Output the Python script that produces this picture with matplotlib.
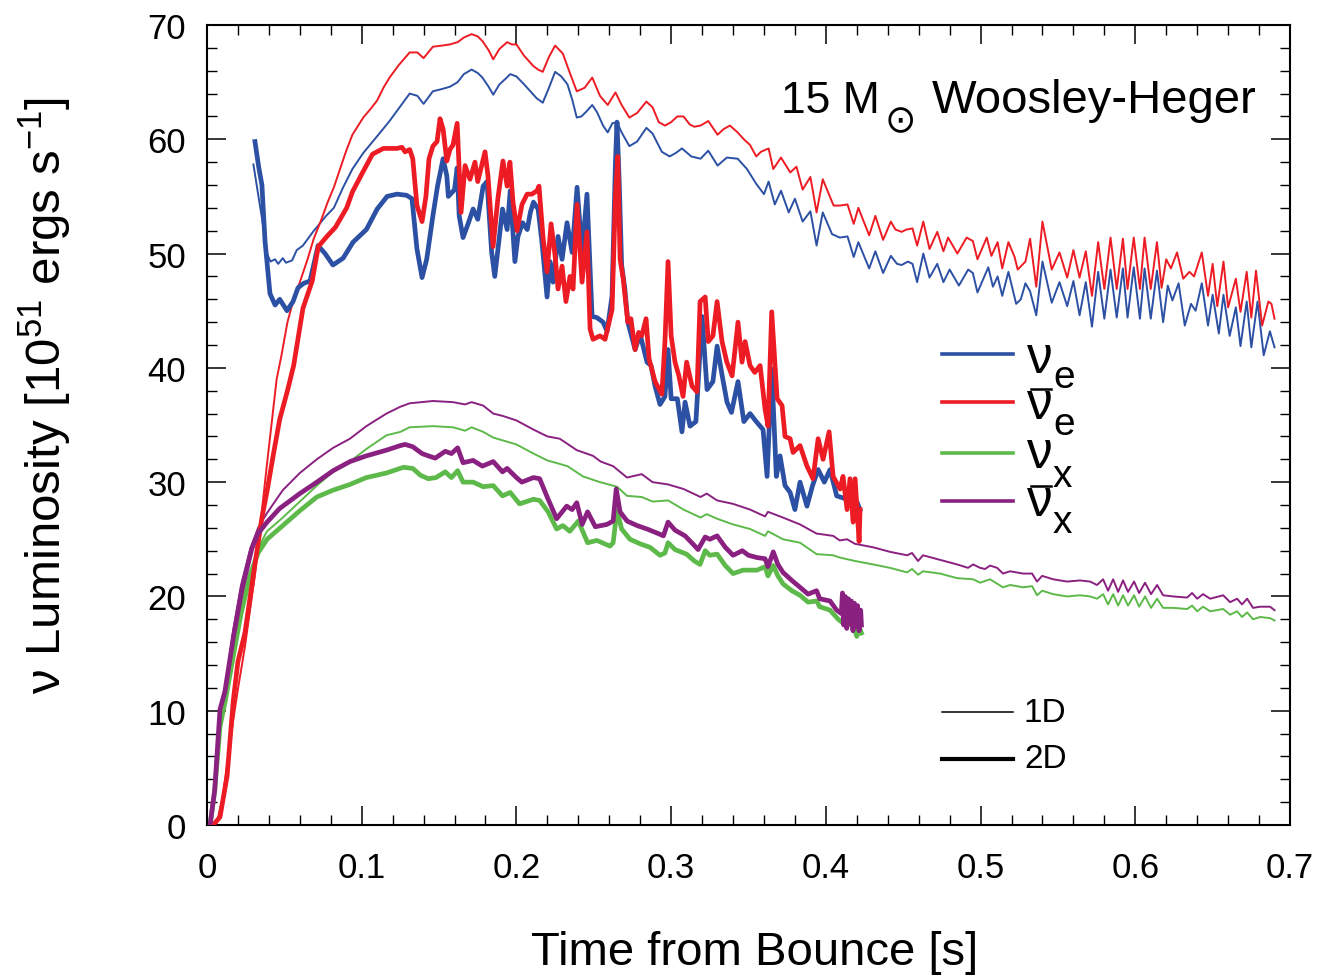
import matplotlib
matplotlib.use("Agg")
import matplotlib.pyplot as plt
from matplotlib.lines import Line2D

plt.rcParams['font.family'] = ['Liberation Sans', 'DejaVu Sans']
plt.rcParams['mathtext.fontset'] = 'custom'
plt.rcParams['mathtext.rm'] = 'Liberation Sans'
plt.rcParams['mathtext.it'] = 'Liberation Sans'
plt.rcParams['mathtext.bf'] = 'Liberation Sans:bold'
plt.rcParams['mathtext.sf'] = 'Liberation Sans'

# ---------------- data ----------------
# nu_e, 1D
t_nue_1d = [0.030, 0.0355, 0.0388, 0.041, 0.044, 0.046, 0.049, 0.051, 0.055, 0.058, 0.062, 0.0685,
            0.077, 0.082, 0.088, 0.094, 0.101, 0.112, 0.118, 0.125, 0.131, 0.136, 0.140, 0.146, 0.152,
            0.157, 0.162, 0.166, 0.171, 0.175, 0.178, 0.182, 0.185, 0.189, 0.193, 0.196, 0.200, 0.205,
            0.209, 0.213, 0.217, 0.221, 0.225, 0.229, 0.233, 0.236, 0.239, 0.242, 0.245, 0.249, 0.252,
            0.256, 0.259, 0.262, 0.265, 0.268, 0.273, 0.278, 0.284, 0.288, 0.294, 0.299, 0.303, 0.307,
            0.313, 0.319, 0.324, 0.330, 0.336, 0.343, 0.349, 0.355, 0.360, 0.363, 0.367, 0.371, 0.376,
            0.380, 0.385, 0.390, 0.394, 0.398, 0.404, 0.409, 0.414, 0.418, 0.421, 0.428, 0.432, 0.437,
            0.442, 0.446, 0.449, 0.453, 0.456, 0.459, 0.463, 0.467, 0.472, 0.476, 0.480, 0.486, 0.492,
            0.495, 0.498, 0.505, 0.508, 0.511, 0.514, 0.518, 0.523, 0.526, 0.529, 0.532, 0.536, 0.540,
            0.546, 0.551, 0.556, 0.560, 0.564, 0.568, 0.572, 0.576, 0.580, 0.584, 0.588, 0.592, 0.595,
            0.599, 0.603, 0.606, 0.610, 0.614, 0.618, 0.621, 0.624, 0.628, 0.632, 0.636, 0.639, 0.643,
            0.647, 0.650, 0.654, 0.657, 0.661, 0.665, 0.668, 0.672, 0.675, 0.679, 0.683, 0.687, 0.690]
L_nue_1d = [57.8, 53.1, 50.0, 49.3, 49.5, 49.1, 49.6, 49.2, 49.4, 50.3, 50.7, 51.9,
            53.3, 54.0, 55.8, 57.4, 58.8, 60.6, 61.6, 62.9, 64.0, 63.8, 63.1, 64.2, 64.4,
            64.6, 65.0, 65.7, 66.1, 65.8, 65.4, 64.6, 63.9, 64.8, 65.3, 65.7, 65.5, 64.8,
            64.2, 63.6, 63.2, 64.5, 65.9, 65.5, 64.8, 63.5, 61.9, 62.0, 62.4, 63.0, 62.4,
            61.2, 60.6, 61.4, 61.5, 60.6, 59.4, 59.8, 61.0, 60.5, 58.9, 58.5, 58.8, 59.2,
            58.5, 58.3, 59.0, 57.7, 58.4, 58.3, 57.4, 56.1, 55.2, 56.3, 54.3, 55.5, 53.6,
            54.8, 52.8, 53.7, 50.7, 53.6, 51.7, 51.4, 51.5, 49.7, 51.0, 48.7, 50.2, 48.3,
            49.8, 49.1, 49.0, 49.3, 49.1, 47.5, 50.0, 47.9, 49.1, 47.5, 48.6, 47.2, 48.6,
            48.3, 46.6, 48.8, 47.1, 48.0, 46.3, 48.4, 45.6, 46.0, 47.4, 46.7, 44.6, 49.3,
            45.7, 47.5, 45.4, 47.6, 44.6, 47.5, 43.6, 48.4, 44.3, 48.6, 44.4, 48.7, 44.4,
            48.8, 44.3, 48.7, 44.3, 48.5, 44.0, 47.2, 45.9, 47.4, 43.7, 45.6, 45.0, 47.4,
            43.7, 46.4, 43.0, 46.4, 42.8, 45.3, 41.9, 45.8, 41.8, 45.8, 41.1, 43.2, 41.8]

# anti-nu_e, 1D
t_anue_1d = [0.006, 0.010, 0.015, 0.020, 0.0245, 0.031, 0.034, 0.0388, 0.045, 0.048, 0.052, 0.056,
             0.060, 0.065, 0.069, 0.074, 0.078, 0.082, 0.086, 0.090, 0.094, 0.101, 0.106, 0.110,
             0.114, 0.118, 0.124, 0.131, 0.136, 0.140, 0.146, 0.152, 0.157, 0.162, 0.166, 0.171,
             0.175, 0.178, 0.182, 0.185, 0.189, 0.194, 0.197, 0.200, 0.205, 0.211, 0.214, 0.217,
             0.221, 0.225, 0.230, 0.234, 0.239, 0.244, 0.249, 0.254, 0.259, 0.264, 0.268, 0.273,
             0.278, 0.284, 0.288, 0.292, 0.296, 0.300, 0.304, 0.308, 0.312, 0.315, 0.319, 0.324,
             0.330, 0.334, 0.338, 0.343, 0.347, 0.351, 0.355, 0.358, 0.363, 0.366, 0.371, 0.377,
             0.381, 0.385, 0.390, 0.394, 0.398, 0.405, 0.409, 0.414, 0.418, 0.421, 0.428, 0.432,
             0.437, 0.442, 0.445, 0.449, 0.452, 0.456, 0.459, 0.463, 0.467, 0.472, 0.476, 0.479,
             0.485, 0.491, 0.495, 0.498, 0.504, 0.507, 0.511, 0.514, 0.518, 0.522, 0.524, 0.529,
             0.532, 0.536, 0.540, 0.546, 0.551, 0.556, 0.560, 0.564, 0.568, 0.572, 0.576, 0.580,
             0.584, 0.588, 0.592, 0.595, 0.599, 0.603, 0.606, 0.610, 0.614, 0.617, 0.620, 0.623,
             0.627, 0.631, 0.635, 0.638, 0.643, 0.647, 0.650, 0.653, 0.657, 0.660, 0.665, 0.668,
             0.672, 0.675, 0.678, 0.682, 0.686, 0.688, 0.690]
L_anue_1d = [0.0, 2.3, 7.4, 11.9, 15.6, 21.9, 25.7, 31.6, 39.0, 41.0, 44.0, 46.0,
             47.5, 49.5, 51.3, 53.0, 54.5, 55.8, 57.4, 59.0, 60.4, 61.9, 62.7, 63.4,
             64.5, 65.4, 66.5, 67.6, 67.6, 67.1, 68.1, 68.2, 68.3, 68.5, 68.9, 69.2,
             69.0, 68.6, 67.8, 67.0, 67.9, 68.5, 68.3, 68.3, 67.3, 66.4, 66.1, 65.9,
             67.2, 68.2, 67.5, 66.0, 64.2, 64.5, 65.4, 63.8, 63.0, 64.1, 63.0, 61.9,
             62.3, 63.3, 62.8, 61.5, 61.2, 61.5, 62.0, 62.0, 61.3, 61.1, 61.2, 61.6,
             60.4, 60.9, 61.2, 60.6, 60.0, 59.5, 58.5, 58.9, 59.2, 57.4, 58.4, 57.1,
             57.6, 55.6, 56.7, 53.6, 56.5, 54.2, 54.2, 54.3, 52.6, 54.0, 51.6, 53.3,
             51.2, 52.8, 52.1, 51.9, 52.1, 52.2, 50.7, 52.8, 50.4, 51.9, 50.2, 51.4,
             50.0, 51.4, 51.1, 49.5, 51.4, 49.8, 51.0, 48.7, 51.0, 49.7, 48.6, 49.3,
             51.3, 47.1, 52.8, 48.6, 50.1, 47.9, 50.3, 47.9, 50.2, 46.3, 51.0, 46.9,
             51.4, 46.9, 51.3, 46.9, 51.4, 46.9, 51.4, 46.9, 51.0, 47.0, 49.5, 48.7,
             50.1, 47.8, 48.4, 48.0, 50.1, 46.3, 49.1, 45.4, 49.3, 45.3, 47.8, 44.9,
             48.4, 44.4, 48.5, 43.7, 45.8, 45.6, 44.3]

# nu_x, 1D
t_nux_1d = [0.002, 0.005, 0.0084, 0.012, 0.017, 0.022, 0.028, 0.033, 0.0388, 0.049, 0.060, 0.071,
            0.0815, 0.0924, 0.103, 0.116, 0.125, 0.131, 0.146, 0.159, 0.1668, 0.171, 0.1785, 0.185,
            0.200, 0.211, 0.220, 0.233, 0.243, 0.254, 0.265, 0.2715, 0.281, 0.288, 0.298, 0.308,
            0.319, 0.323, 0.3297, 0.340, 0.351, 0.3607, 0.3626, 0.3723, 0.3833, 0.394, 0.4047,
            0.409, 0.4189, 0.4305, 0.4415, 0.4525, 0.4557, 0.4596, 0.4628, 0.4738, 0.4848, 0.4952,
            0.4997, 0.5061, 0.5145, 0.5191, 0.5275, 0.5333, 0.5365, 0.5398, 0.5469, 0.5559, 0.5643,
            0.5708, 0.5753, 0.5792, 0.5824, 0.5857, 0.5889, 0.5921, 0.5953, 0.5992, 0.6025, 0.6063,
            0.6102, 0.6141, 0.618, 0.6244, 0.6335, 0.6367, 0.640, 0.6438, 0.6484, 0.6568, 0.6613,
            0.6658, 0.669, 0.6723, 0.6761, 0.6807, 0.6871, 0.690]
L_nux_1d = [0.0, 3.0, 9.0, 11.5, 16.0, 19.5, 22.2, 24.2, 25.7, 26.9, 28.3, 29.7,
            30.9, 31.8, 32.9, 34.1, 34.4, 34.8, 34.9, 34.8, 34.5, 34.8, 34.4, 33.9,
            33.3, 32.5, 31.9, 31.4, 30.5, 30.0, 29.6, 28.8, 28.7, 28.3, 28.4, 27.6,
            26.9, 27.2, 26.8, 26.3, 25.9, 25.3, 25.7, 25.0, 24.7, 23.7, 23.6,
            23.4, 23.1, 22.8, 22.5, 22.1, 22.4, 21.9, 22.2, 22.0, 21.6, 21.5,
            21.2, 21.5, 20.8, 21.0, 20.8, 20.9, 20.1, 20.5, 20.2, 20.0, 20.1,
            20.0, 19.8, 20.2, 19.3, 20.2, 19.2, 20.1, 19.2, 20.1, 19.1, 20.0,
            19.0, 19.8, 19.0, 19.0, 18.9, 19.2, 18.7, 19.1, 18.7, 18.9, 18.4,
            18.7, 18.2, 18.6, 18.0, 18.2, 18.1, 17.9]

# anti-nu_x, 1D
t_anux_1d = [0.002, 0.005, 0.0084, 0.012, 0.017, 0.022, 0.028, 0.033, 0.0388, 0.049, 0.060, 0.071,
             0.0815, 0.0924, 0.103, 0.116, 0.125, 0.131, 0.146, 0.159, 0.1668, 0.171, 0.1785, 0.185,
             0.191, 0.200, 0.211, 0.220, 0.228, 0.239, 0.2495, 0.2545, 0.2625, 0.2715, 0.281, 0.288,
             0.298, 0.308, 0.319, 0.323, 0.3297, 0.340, 0.351, 0.3607, 0.3626, 0.3723, 0.3833, 0.394,
             0.4047, 0.409, 0.4137, 0.4189, 0.4305, 0.4415, 0.4525, 0.4557, 0.4596, 0.4628, 0.4738,
             0.4848, 0.4919, 0.4952, 0.4997, 0.5029, 0.5061, 0.5107, 0.5145, 0.5191, 0.5275, 0.5333,
             0.5365, 0.5398, 0.5469, 0.5559, 0.5643, 0.5708, 0.5753, 0.5792, 0.5824, 0.5857, 0.5889,
             0.5921, 0.5953, 0.5992, 0.6025, 0.6063, 0.6102, 0.6141, 0.618, 0.6244, 0.6335, 0.6367,
             0.640, 0.6438, 0.6484, 0.6568, 0.6613, 0.6658, 0.669, 0.6723, 0.6761, 0.6807, 0.6871,
             0.690]
L_anux_1d = [0.0, 3.2, 10.0, 12.0, 17.1, 21.0, 24.2, 26.0, 27.3, 29.3, 30.8, 32.0,
             33.0, 33.8, 34.9, 36.0, 36.6, 36.9, 37.1, 37.0, 36.8, 37.0, 36.7, 36.0,
             35.8, 35.4, 34.6, 34.0, 33.8, 32.8, 32.3, 31.8, 31.4, 30.4, 30.7, 30.0,
             29.8, 29.4, 28.7, 29.0, 28.4, 28.1, 27.6, 27.0, 27.4, 26.9, 26.3, 25.5,
             25.3, 24.9, 25.0, 24.6, 24.3, 23.9, 23.6, 23.8, 23.1, 23.6, 23.2,
             22.8, 22.5, 22.8, 22.5, 22.4, 22.7, 22.5, 22.0, 22.2, 22.0, 22.0,
             21.3, 21.8, 21.5, 21.3, 21.4, 21.3, 21.0, 21.5, 20.5, 21.5, 20.4,
             21.4, 20.4, 21.3, 20.3, 21.2, 20.2, 21.0, 20.1, 20.0, 19.9, 20.3,
             19.8, 20.2, 19.8, 20.1, 19.5, 19.8, 19.3, 19.8, 19.0, 19.1, 19.1,
             18.8]

# nu_e, 2D
t_nue_2d = [0.031, 0.0335, 0.0355, 0.0375, 0.0407, 0.044, 0.047, 0.0517, 0.0556, 0.0588, 0.0625,
            0.0666, 0.0718, 0.0763, 0.0814, 0.088, 0.0944, 0.103, 0.110, 0.1164, 0.1228, 0.129,
            0.1325, 0.1357, 0.139, 0.142, 0.146, 0.149, 0.1526, 0.155, 0.156, 0.160, 0.1617, 0.163,
            0.1655, 0.169, 0.172, 0.175, 0.1785, 0.181, 0.184, 0.186, 0.189, 0.191, 0.194, 0.196,
            0.199, 0.201, 0.204, 0.207, 0.209, 0.211, 0.214, 0.2165, 0.2198, 0.2217, 0.2237, 0.2269,
            0.2295, 0.2327, 0.236, 0.2392, 0.2424, 0.2456, 0.2489, 0.252, 0.256, 0.2586, 0.2618,
            0.2640, 0.2650, 0.2665, 0.268, 0.270, 0.272, 0.2767, 0.280, 0.2844, 0.287, 0.2896,
            0.2928, 0.296, 0.298, 0.300, 0.304, 0.307, 0.309, 0.3122, 0.316, 0.320, 0.3232, 0.327,
            0.3297, 0.333, 0.3361, 0.339, 0.3432, 0.347, 0.351, 0.355, 0.3594, 0.362, 0.365, 0.368,
            0.3704, 0.3736, 0.3769, 0.380, 0.3833, 0.3878, 0.3914, 0.395, 0.399, 0.4027, 0.407,
            0.4137, 0.420, 0.422]
L_nue_2d = [59.8, 57.5, 56.0, 51.1, 46.5, 45.5, 46.0, 45.0, 45.8, 47.0, 47.4,
            47.6, 50.7, 50.0, 49.0, 49.6, 51.0, 52.1, 53.9, 55.0, 55.2, 55.1,
            54.8, 50.4, 47.9, 49.5, 53.3, 55.9, 58.3, 56.8, 55.0, 55.6, 57.5, 53.3,
            51.4, 52.7, 53.9, 53.0, 55.9, 56.3, 50.1, 48.0, 51.5, 53.9, 52.1, 55.5,
            49.3, 51.5, 52.7, 52.1, 53.6, 54.5, 53.9, 51.0, 46.2, 49.3, 47.5, 51.5,
            49.5, 52.7, 50.1, 55.8, 50.1, 55.2, 44.5, 44.4, 44.0, 43.2, 46.3,
            58.0, 61.5, 56.0, 49.0, 47.0, 44.0, 41.6, 42.9, 40.5, 40.2, 38.4,
            36.8, 37.5, 41.6, 37.3, 37.3, 34.4, 37.0, 34.9, 35.3, 44.5, 38.1, 38.8,
            41.9, 39.3, 37.0, 36.1, 38.8, 35.3, 36.0, 35.3, 34.6, 30.5, 39.9, 30.5,
            32.3, 29.7, 29.1, 27.6, 30.0, 27.9, 29.7, 31.1, 30.0, 31.1, 28.8,
            28.5, 28.3, 27.6]

# anti-nu_e, 2D
t_anue_2d = [0.004, 0.0084, 0.013, 0.017, 0.020, 0.0245, 0.030, 0.0355, 0.0388, 0.043, 0.047,
             0.052, 0.056, 0.062, 0.068, 0.0719, 0.0775, 0.083, 0.086, 0.0903, 0.094, 0.101, 0.107,
             0.114, 0.1228, 0.126, 0.128, 0.131, 0.133, 0.1357, 0.139, 0.1415, 0.1435, 0.146, 0.1487,
             0.1506, 0.1526, 0.155, 0.157, 0.159, 0.1617, 0.1642, 0.1668, 0.170, 0.1732, 0.175,
             0.1797, 0.1816, 0.1849, 0.188, 0.1913, 0.194, 0.1958, 0.1978, 0.2004, 0.2036, 0.2069,
             0.210, 0.2133, 0.2146, 0.2172, 0.2198, 0.2224, 0.225, 0.2269, 0.2295, 0.232, 0.2346,
             0.2366, 0.2392, 0.2424, 0.2456, 0.2476, 0.2495, 0.254, 0.2573, 0.2618, 0.2640, 0.2655,
             0.267, 0.269, 0.272, 0.274, 0.2767, 0.279, 0.281, 0.2838, 0.2857, 0.2896, 0.294, 0.296,
             0.298, 0.300, 0.3025, 0.305, 0.3077, 0.310, 0.3135, 0.3167, 0.3187, 0.322, 0.324, 0.327,
             0.3297, 0.3329, 0.336, 0.3394, 0.3413, 0.3432, 0.3458, 0.3478, 0.351, 0.354, 0.3575,
             0.3607, 0.3626, 0.365, 0.3685, 0.3717, 0.3736, 0.3769, 0.3788, 0.3833, 0.3878, 0.3917,
             0.395, 0.3982, 0.4021, 0.4047, 0.4092, 0.4111, 0.4137, 0.4156, 0.4176, 0.4189, 0.4208,
             0.4215, 0.4221]
L_anue_2d = [0.0, 0.7, 4.3, 10.9, 14.3, 16.8, 21.9, 26.9, 29.2, 32.5, 35.5,
             38.0, 40.2, 45.2, 47.6, 50.6, 51.5, 52.3, 53.0, 54.0, 55.4, 57.2, 58.7,
             59.2, 59.2, 59.3, 58.9, 59.1, 58.3, 54.2, 52.8, 55.0, 58.3, 59.4, 59.8,
             61.8, 60.9, 58.1, 59.1, 59.5, 61.4, 53.6, 57.7, 56.5, 58.0, 56.3,
             58.9, 56.8, 50.6, 54.8, 58.1, 55.9, 58.0, 54.5, 52.0, 54.3, 55.2,
             55.2, 55.5, 55.9, 51.4, 48.4, 52.6, 49.8, 46.9, 48.9, 45.8, 48.0,
             46.9, 54.3, 47.5, 51.9, 43.4, 42.5, 42.8, 42.5, 45.1, 55.0, 58.5,
             49.5, 47.8, 44.0, 44.3, 41.6, 43.1, 42.8, 44.3, 40.8, 38.8, 37.7, 42.3,
             49.3, 42.8, 40.5, 39.3, 37.5, 40.5, 38.4, 37.9, 45.8, 46.2, 42.3, 42.8,
             45.8, 42.3, 40.5, 39.3, 41.6, 44.0, 40.5, 42.3, 40.2, 39.6, 40.2,
             36.4, 34.9, 44.9, 37.3, 36.7, 34.0, 33.8, 32.6, 33.2, 31.4, 30.3,
             33.8, 32.0, 34.4, 30.5, 29.4, 30.5, 27.6, 30.3, 26.5, 30.3, 26.2,
             24.8, 27.6]

# nu_x, 2D
t_nux_2d = [0.002, 0.005, 0.0084, 0.012, 0.017, 0.022, 0.028, 0.033, 0.0388, 0.049, 0.060, 0.071,
            0.0815, 0.0924, 0.103, 0.116, 0.127, 0.133, 0.138, 0.143, 0.148, 0.154, 0.158, 0.162,
            0.1655, 0.172, 0.1785, 0.185, 0.191, 0.196, 0.202, 0.211, 0.215, 0.2205, 0.226, 0.230,
            0.2345, 0.240, 0.246, 0.252, 0.2605, 0.2625, 0.265, 0.268, 0.2734, 0.280, 0.2863,
            0.2928, 0.296, 0.298, 0.3025, 0.310, 0.315, 0.3187, 0.322, 0.325, 0.3297, 0.335, 0.340,
            0.3465, 0.3555, 0.3607, 0.3626, 0.366, 0.369, 0.3723, 0.378, 0.3833, 0.3885, 0.394,
            0.396, 0.4027, 0.408, 0.4137, 0.417, 0.420, 0.4215, 0.423]
L_nux_2d = [0.0, 3.0, 8.6, 11.0, 14.8, 18.5, 21.9, 23.8, 25.0, 26.2, 27.5, 28.7,
            29.3, 29.8, 30.4, 30.8, 31.3, 31.2, 30.6, 30.3, 30.4, 30.9, 30.4, 31.0,
            30.0, 30.0, 29.6, 29.7, 28.8, 29.1, 28.1, 28.5, 28.4, 27.4, 25.9, 26.2,
            25.7, 26.6, 24.7, 24.9, 24.4, 24.7, 27.5, 25.9, 25.0, 24.6, 24.3,
            23.6, 23.8, 24.7, 24.1, 23.7, 23.1, 22.8, 24.0, 23.6, 23.7, 22.7, 22.0,
            22.3, 22.3, 22.6, 21.8, 22.7, 21.8, 21.1, 20.5, 20.1, 19.5, 19.6,
            19.1, 18.8, 18.0, 17.4, 17.8, 16.5, 17.3, 16.8]

# anti-nu_x, 2D
t_anux_2d = [0.002, 0.005, 0.0084, 0.0116, 0.017, 0.0226, 0.029, 0.033, 0.0388, 0.047, 0.060, 0.071,
             0.0815, 0.0924, 0.103, 0.116, 0.125, 0.128, 0.133, 0.139, 0.143, 0.1475, 0.154, 0.158,
             0.162, 0.1655, 0.172, 0.178, 0.185, 0.191, 0.194, 0.200, 0.2035, 0.211, 0.215, 0.2205,
             0.226, 0.2325, 0.236, 0.239, 0.2425, 0.246, 0.251, 0.2585, 0.2625, 0.2645, 0.267,
             0.2715, 0.278, 0.2844, 0.2917, 0.295, 0.298, 0.3025, 0.309, 0.314, 0.3174, 0.322,
             0.325, 0.3297, 0.335, 0.340, 0.346, 0.350, 0.3555, 0.3607, 0.3626, 0.366, 0.369,
             0.3723, 0.378, 0.3833, 0.3885, 0.394, 0.396, 0.4027, 0.407, 0.410, 0.4107, 0.4115,
             0.4125, 0.4135, 0.4145, 0.4155, 0.4165, 0.4175, 0.4185, 0.4195, 0.4205, 0.4215,
             0.4225, 0.423]
L_anux_2d = [0.0, 3.1, 10.1, 11.7, 16.4, 20.6, 24.2, 25.5, 26.5, 27.7, 29.0, 30.0,
             31.0, 31.8, 32.3, 32.8, 33.2, 33.3, 33.1, 32.5, 32.3, 32.1, 32.7, 32.5,
             33.0, 31.7, 31.9, 31.4, 31.8, 30.9, 31.2, 30.4, 30.0, 30.4, 30.3, 28.5,
             26.8, 27.9, 27.6, 28.2, 26.3, 27.4, 26.1, 26.3, 26.6, 29.4, 27.4,
             26.6, 26.2, 25.9, 25.5, 25.3, 26.5, 25.8, 25.3, 24.6, 24.1, 25.2,
             25.0, 25.3, 24.3, 23.6, 24.0, 23.6, 23.4, 23.3, 22.6, 23.9, 22.8,
             22.1, 21.4, 20.8, 20.2, 20.5, 19.8, 19.6, 18.8, 18.5, 20.3, 17.5,
             20.0, 17.2, 19.8, 17.6, 19.6, 17.0, 19.4, 17.4, 19.2, 17.0,
             18.8, 17.5]

# ---------------- styling ----------------
BLUE = '#2C50A3'
RED = '#ED1C24'
GREEN = '#5DB94A'
PURPLE = '#8A2180'
THIN = 1.4
THICK = 3.4

W, H = 1319, 979
fig = plt.figure(figsize=(W / 100, H / 100), dpi=100)


def fx(px):
    return px / W


def fy(py):
    return 1 - py / H


ax = fig.add_axes([fx(207), fy(826), fx(1290) - fx(207), fy(26) - fy(826)])

ax.plot(t_nue_1d, L_nue_1d, color=BLUE, lw=THIN, zorder=2, solid_joinstyle='round')
ax.plot(t_anue_1d, L_anue_1d, color=RED, lw=THIN, zorder=2, solid_joinstyle='round')
ax.plot(t_nux_1d, L_nux_1d, color=GREEN, lw=THIN, zorder=2, solid_joinstyle='round')
ax.plot(t_anux_1d, L_anux_1d, color=PURPLE, lw=THIN, zorder=2, solid_joinstyle='round')
ax.plot(t_nue_2d, L_nue_2d, color=BLUE, lw=THICK, zorder=3, solid_joinstyle='round')
ax.plot(t_anue_2d, L_anue_2d, color=RED, lw=THICK, zorder=4, solid_joinstyle='round')
ax.plot(t_nux_2d, L_nux_2d, color=GREEN, lw=THICK, zorder=3, solid_joinstyle='round')
ax.plot(t_anux_2d, L_anux_2d, color=PURPLE, lw=THICK, zorder=4, solid_joinstyle='round')

ax.set_xlim(0, 0.7)
ax.set_ylim(0, 70)
ax.set_xticks([0, 0.1, 0.2, 0.3, 0.4, 0.5, 0.6, 0.7])
ax.set_xticklabels(['0', '0.1', '0.2', '0.3', '0.4', '0.5', '0.6', '0.7'])
ax.set_yticks([0, 10, 20, 30, 40, 50, 60, 70])
ax.set_xticks([i * 0.02 for i in range(36)], minor=True)
ax.set_yticks(list(range(0, 71, 2)), minor=True)
ax.tick_params(which='both', direction='in', top=True, right=True, color='black')
ax.tick_params(which='major', length=14, width=1.1, labelsize=25)
ax.tick_params(which='minor', length=7, width=1.0)
ax.tick_params(axis='x', which='major', pad=19)
ax.tick_params(axis='y', which='major', pad=15)
for s in ax.spines.values():
    s.set_linewidth(1.5)

# axis labels
fig.text(fx(755), fy(953), 'Time from Bounce [s]', fontsize=34, ha='center', va='center')
fig.text(fx(45), fy(396), r'$\nu$ Luminosity [10$^{51}$ ergs s$^{-1}$]', fontsize=35.5,
         ha='center', va='center', rotation=90)

# title
fig.text(fx(781), fy(113), '15 M', fontsize=32, ha='left', va='baseline')
fig.text(fx(900), fy(122), '\u2299', fontsize=27, ha='center', va='center', family='DejaVu Sans')
fig.text(fx(1257), fy(113), 'Woosley-Heger', fontsize=34, ha='right', va='baseline')

# species legend: (colour, line y, nu baseline, subscript baseline, subscript, bar)
leg_rows = [(BLUE, 355, 373, 388, 'e', False),
            (RED, 403, 419, 435, 'e', True),
            (GREEN, 454, 468, 487, 'x', False),
            (PURPLE, 502, 516, 533, 'x', True)]
for col, ly, nb, sb, sub, bar in leg_rows:
    fig.add_artist(Line2D([fx(942), fx(1013)], [fy(ly), fy(ly)], color=col, lw=2.6,
                          transform=fig.transFigure))
    fig.text(fx(1027), fy(nb), '\u03bd', fontsize=37, ha='left', va='baseline')
    fig.text(fx(1053), fy(sb), sub, fontsize=28, ha='left', va='baseline')
    if bar:
        fig.add_artist(Line2D([fx(1031), fx(1051)], [fy(nb - 29), fy(nb - 29)], color='black',
                              lw=1.8, transform=fig.transFigure))

# 1D / 2D legend
fig.add_artist(Line2D([fx(942), fx(1013)], [fy(713), fy(713)], color='black', lw=1.1,
                      transform=fig.transFigure))
fig.add_artist(Line2D([fx(942), fx(1013)], [fy(760), fy(760)], color='black', lw=3.0,
                      transform=fig.transFigure))
fig.text(fx(1024), fy(722), '1D', fontsize=24, ha='left', va='baseline')
fig.text(fx(1024), fy(768), '2D', fontsize=24, ha='left', va='baseline')

fig.savefig('out.png', dpi=100)
